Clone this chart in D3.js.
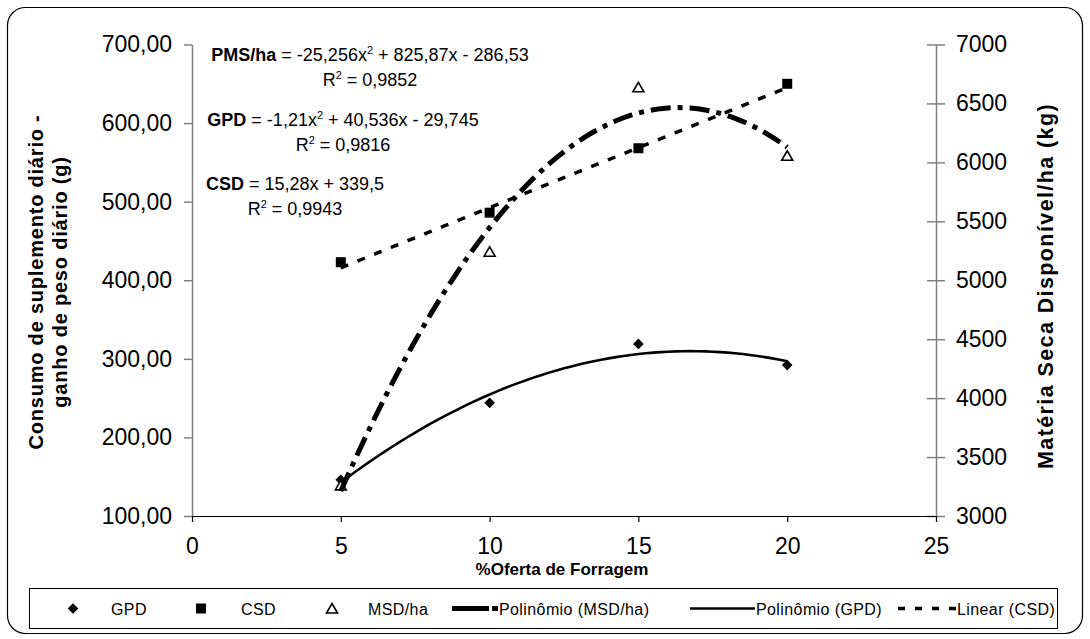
<!DOCTYPE html>
<html>
<head>
<meta charset="utf-8">
<script src="https://cdn.jsdelivr.net/npm/d3@7"></script>
<style>
  html, body { margin: 0; padding: 0; background: #fff; }
  svg text { font-family: Arial, "Liberation Sans", sans-serif; fill: #000; }
</style>
</head>
<body>
<svg id="chart" width="1090" height="639"></svg>
<script>
// dados
const ofertas = [5, 10, 15, 20];
const gpd = [146, 244, 319, 292];
const csd = [423, 486, 568, 650];
const msd = [3260, 5242, 6637, 6056];

// coeficientes das linhas de tendência (como impressos no gráfico)
const gpdCoef = [-1.21, 40.536, -29.745];
const msdCoef = [-25.256, 825.87, -286.53];
const csdCoef = [15.28, 339.5];

const leftTicks = [100, 200, 300, 400, 500, 600, 700];
const rightTicks = [3000, 3500, 4000, 4500, 5000, 5500, 6000, 6500, 7000];
const xTicks = [0, 5, 10, 15, 20, 25];

const svg = d3.select('#chart');

// moldura externa
svg.append('rect')
    .attr('x', 7.5).attr('y', 7.5)
    .attr('width', 1075).attr('height', 626)
    .attr('rx', 18)
    .attr('fill', '#fff')
    .attr('stroke', '#000')
    .attr('stroke-width', 1.2);

const x = d3.scaleLinear().domain([0, 25]).range([192, 936]);
const yL = d3.scaleLinear().domain([100, 700]).range([516, 44.5]);
const yR = d3.scaleLinear().domain([3000, 7000]).range([516, 44.5]);

const fmt2 = d => d3.format('.2f')(d).replace('.', ',');

// eixo esquerdo
const gL = svg.append('g')
    .attr('transform', 'translate(192,0)')
    .call(d3.axisLeft(yL).tickValues(leftTicks).tickSize(8).tickSizeOuter(0)
        .tickPadding(12).tickFormat(fmt2));

// eixo direito
const gR = svg.append('g')
    .attr('transform', 'translate(936,0)')
    .call(d3.axisRight(yR).tickValues(rightTicks).tickSize(9).tickSizeOuter(0)
        .tickPadding(11).tickFormat(d3.format('d')));
gR.selectAll('.tick line').attr('x1', -9);

// eixo x
const gX = svg.append('g')
    .attr('transform', 'translate(0,516)')
    .call(d3.axisBottom(x).tickValues(xTicks).tickSize(6).tickSizeOuter(0)
        .tickPadding(16).tickFormat(d3.format('d')));

[gL, gR].forEach(function(g) {
    g.select('.domain').attr('stroke', '#808080').attr('stroke-width', 1.5);
    g.selectAll('.tick line').attr('stroke', '#808080').attr('stroke-width', 1.5);
});
gX.select('.domain').attr('stroke', '#000').attr('stroke-width', 1.2);
gX.selectAll('.tick line').attr('stroke', '#000').attr('stroke-width', 1.2);
[gL, gR, gX].forEach(function(g) {
    g.selectAll('.tick text').attr('font-size', 23).attr('fill', '#000')
        .attr('font-family', 'Arial, "Liberation Sans", sans-serif');
});

// títulos dos eixos
svg.append('text')
    .attr('transform', 'translate(43,282) rotate(-90)')
    .attr('text-anchor', 'middle')
    .attr('font-size', 20).attr('font-weight', 'bold')
    .attr('letter-spacing', 0.8)
    .text('Consumo de suplemento diário -');
svg.append('text')
    .attr('transform', 'translate(67,282) rotate(-90)')
    .attr('text-anchor', 'middle')
    .attr('font-size', 20).attr('font-weight', 'bold')
    .attr('letter-spacing', 0.8)
    .text('ganho de peso diário (g)');
svg.append('text')
    .attr('transform', 'translate(1053,286) rotate(-90)')
    .attr('text-anchor', 'middle')
    .attr('font-size', 21.5).attr('font-weight', 'bold')
    .attr('letter-spacing', 1.4)
    .text('Matéria Seca Disponível/ha (kg)');
svg.append('text')
    .attr('x', 562).attr('y', 575)
    .attr('text-anchor', 'middle')
    .attr('font-size', 17).attr('font-weight', 'bold')
    .text('%Oferta de Forragem');

// linhas de tendência
const poly = c => t => c[0] * t * t + c[1] * t + c[2];
const lin = c => t => c[0] * t + c[1];
const xs = d3.range(5, 20.001, 0.25);

const curve = (f, ys) => d3.line()
    .x(t => x(t))
    .y(t => ys(f(t)))(xs);

svg.append('path')
    .attr('d', curve(lin(csdCoef), yL))
    .attr('fill', 'none').attr('stroke', '#000')
    .attr('stroke-width', 3.5).attr('stroke-dasharray', '8,10');

svg.append('path')
    .attr('d', curve(poly(gpdCoef), yL))
    .attr('fill', 'none').attr('stroke', '#000')
    .attr('stroke-width', 2.6);

// marcadores
svg.selectAll('.gpd')
    .data(gpd)
  .enter().append('path')
    .attr('class', 'gpd')
    .attr('d', d3.symbol(d3.symbolDiamond2, 72))
    .attr('transform', (d, i) => 'translate(' + x(ofertas[i]) + ',' + yL(d) + ')')
    .attr('fill', '#000');

svg.selectAll('.csd')
    .data(csd)
  .enter().append('rect')
    .attr('class', 'csd')
    .attr('x', (d, i) => x(ofertas[i]) - 5)
    .attr('y', d => yL(d) - 5)
    .attr('width', 10).attr('height', 10)
    .attr('fill', '#000');

svg.selectAll('.msd')
    .data(msd)
  .enter().append('path')
    .attr('class', 'msd')
    .attr('d', 'M0,-5L5.5,4.5L-5.5,4.5Z')
    .attr('transform', (d, i) => 'translate(' + x(ofertas[i]) + ',' + yR(d) + ')')
    .attr('fill', '#fff').attr('stroke', '#000').attr('stroke-width', 1.6);

svg.append('path')
    .attr('d', curve(poly(msdCoef), yR))
    .attr('fill', 'none').attr('stroke', '#000')
    .attr('stroke-width', 5).attr('stroke-dasharray', '20,7,5,7');

// equações
function equation(cx, cy, name, parts, r2) {
    const t = svg.append('text')
        .attr('x', cx).attr('y', cy)
        .attr('text-anchor', 'middle')
        .attr('font-size', 18);
    t.append('tspan').attr('font-weight', 'bold').text(name);
    parts.forEach(function(p) {
        if (p.sup) {
            t.append('tspan').attr('font-size', 11).attr('dy', -7).text(p.sup);
            t.append('tspan').attr('dy', 7).text(p.text);
        } else {
            t.append('tspan').text(p.text);
        }
    });
    const r = svg.append('text')
        .attr('x', cx).attr('y', cy + 25)
        .attr('text-anchor', 'middle')
        .attr('font-size', 18);
    r.append('tspan').text('R');
    r.append('tspan').attr('font-size', 11).attr('dy', -7).text('2');
    r.append('tspan').attr('dy', 7).text(' = ' + r2);
}

equation(370, 61, 'PMS/ha', [{text: ' = -25,256x'}, {sup: '2', text: ' + 825,87x - 286,53'}], '0,9852');
equation(343, 126, 'GPD', [{text: ' = -1,21x'}, {sup: '2', text: ' + 40,536x - 29,745'}], '0,9816');
equation(295, 190, 'CSD', [{text: ' = 15,28x + 339,5'}], '0,9943');

// legenda
const lg = svg.append('g');
lg.append('rect')
    .attr('x', 29.5).attr('y', 588.5)
    .attr('width', 1028).attr('height', 40)
    .attr('fill', '#fff').attr('stroke', '#000').attr('stroke-width', 1);

const ly = 608.5;
lg.append('path').attr('d', d3.symbol(d3.symbolDiamond2, 72))
    .attr('transform', 'translate(73,' + ly + ')').attr('fill', '#000');
lg.append('rect').attr('x', 196).attr('y', ly - 5).attr('width', 10).attr('height', 10).attr('fill', '#000');
lg.append('path').attr('d', 'M0,-5L5.5,4.5L-5.5,4.5Z')
    .attr('transform', 'translate(332,' + ly + ')')
    .attr('fill', '#fff').attr('stroke', '#000').attr('stroke-width', 1.6);
lg.append('line').attr('x1', 452).attr('x2', 498).attr('y1', ly).attr('y2', ly)
    .attr('stroke', '#000').attr('stroke-width', 5).attr('stroke-dasharray', '37,3,7');
lg.append('line').attr('x1', 690).attr('x2', 755).attr('y1', ly).attr('y2', ly)
    .attr('stroke', '#000').attr('stroke-width', 2.6);
lg.append('line').attr('x1', 898).attr('x2', 958).attr('y1', ly).attr('y2', ly)
    .attr('stroke', '#000').attr('stroke-width', 3.5).attr('stroke-dasharray', '7,10');

const legendTexts = [
    {x: 111, t: 'GPD'},
    {x: 241, t: 'CSD'},
    {x: 368, t: 'MSD/ha'},
    {x: 499, t: 'Polinômio (MSD/ha)'},
    {x: 756, t: 'Polinômio (GPD)'},
    {x: 957, t: 'Linear (CSD)'}
];
lg.selectAll('.lt')
    .data(legendTexts)
  .enter().append('text')
    .attr('class', 'lt')
    .attr('x', d => d.x).attr('y', ly + 6)
    .attr('font-size', 16)
    .attr('letter-spacing', 0.4)
    .text(d => d.t);
</script>
</body>
</html>
